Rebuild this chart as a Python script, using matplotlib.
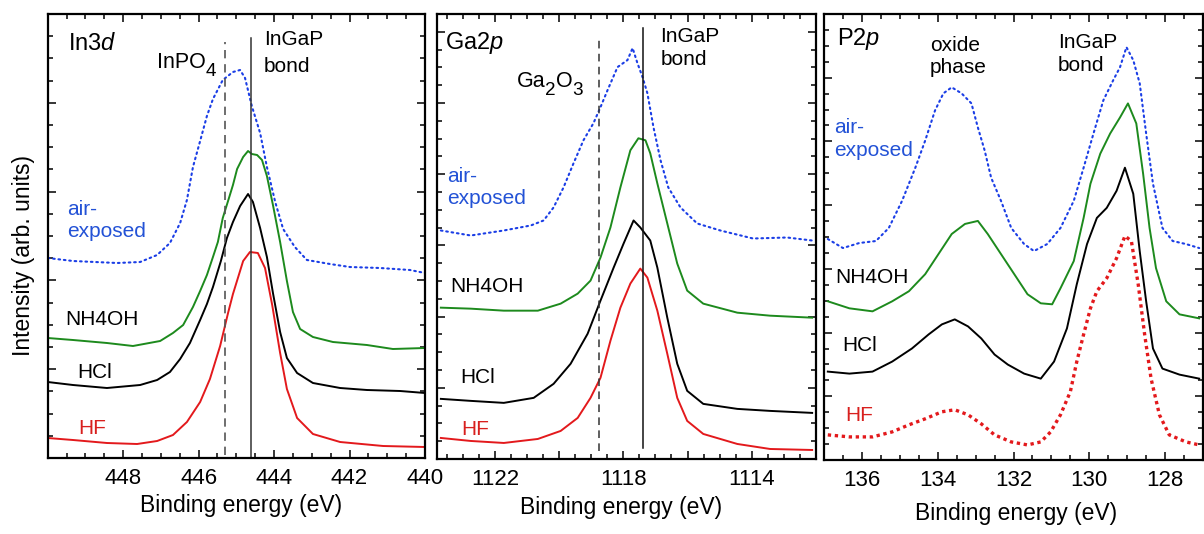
import matplotlib
matplotlib.use('Agg')
import matplotlib.pyplot as plt
from matplotlib.ticker import MultipleLocator, FuncFormatter

plt.rcParams['font.family'] = ['Liberation Sans', 'DejaVu Sans']
plt.rcParams['mathtext.fontset'] = 'custom'
plt.rcParams['mathtext.rm'] = 'Liberation Sans'
plt.rcParams['mathtext.it'] = 'Liberation Sans:italic'

# ---- In3d spectra (binding energy in eV, intensity in arb. units)
in3d_E_air = [450.0, 449.33, 448.16, 447.55, 447.10, 446.76, 446.49, 446.31, 446.15, 445.96, 445.78, 445.62, 445.36, 445.09,
              444.90, 444.77, 444.59, 444.37, 444.19, 443.97, 443.76, 443.45, 443.13, 442.52, 441.99, 441.19, 440.40, 440.00]
in3d_I_air = [200, 197, 195, 196, 203, 215, 235, 258, 291, 317, 342, 359, 378, 386,
              388, 380, 352, 325, 291, 256, 229, 211, 198, 194, 191, 190, 188, 185]
in3d_E_nh4 = [450.0, 449.33, 448.43, 447.74, 447.02, 446.68, 446.41, 446.15, 445.96, 445.78, 445.62, 445.49, 445.36, 445.22,
              445.09, 444.98, 444.82, 444.69, 444.59, 444.45, 444.32, 444.19, 444.03, 443.84, 443.66, 443.50, 443.31, 442.97,
              442.44, 441.54, 440.85, 440.00]
in3d_I_nh4 = [120, 118, 115, 112, 117, 125, 133, 151, 167, 183, 201, 216, 240, 257,
              273, 289, 301, 307, 304, 303, 298, 282, 253, 216, 177, 146, 129, 121,
              116, 113, 109, 110]
in3d_E_hcl = [450.0, 449.33, 448.43, 447.55, 447.10, 446.76, 446.49, 446.23, 445.96, 445.78, 445.62, 445.41, 445.25, 445.09,
              444.90, 444.69, 444.56, 444.37, 444.19, 444.03, 443.84, 443.66, 443.39, 442.97, 442.25, 441.54, 440.66, 440.00]
in3d_I_hcl = [76, 73, 70, 73, 78, 86, 99, 115, 138, 154, 171, 197, 220, 236,
              252, 264, 256, 230, 201, 165, 126, 100, 85, 75, 70, 68, 67, 65]
in3d_E_hf = [450.0, 449.33, 448.43, 447.63, 447.10, 446.68, 446.31, 445.96, 445.70, 445.43, 445.22, 445.09,
             444.82, 444.64, 444.43, 444.24, 444.05, 443.84, 443.66, 443.39, 442.97, 442.25, 441.11, 440.00]
in3d_I_hf = [20, 18, 15, 14, 17, 23, 36, 56, 79, 112, 145, 164,
             197, 206, 205, 190, 153, 105, 69, 40, 24, 16, 12, 11]

# ---- Ga2p spectra
ga2p_E_air = [1123.68, 1122.75, 1121.72, 1120.88, 1120.48, 1120.17, 1119.86, 1119.55, 1119.24, 1118.93, 1118.71, 1118.49,
              1118.18, 1117.87, 1117.71, 1117.56, 1117.40, 1117.25, 1117.06, 1116.84, 1116.60, 1116.22, 1115.70, 1114.98,
              1113.96, 1112.90, 1112.12]
ga2p_I_air = [228, 223, 228, 233, 238, 251, 271, 295, 318, 335, 351, 368,
              391, 398, 410, 395, 381, 365, 331, 298, 271, 251, 235, 228,
              220, 221, 218]
ga2p_E_nh4 = [1123.68, 1122.75, 1121.72, 1120.66, 1119.95, 1119.42, 1119.02, 1118.71, 1118.40, 1118.09, 1117.78, 1117.53,
              1117.31, 1117.16, 1116.94, 1116.63, 1116.32, 1116.01, 1115.51, 1114.45, 1113.43, 1112.12]
ga2p_I_nh4 = [151, 150, 148, 148, 155, 165, 178, 201, 231, 271, 308, 320,
              318, 305, 275, 235, 195, 168, 155, 146, 143, 141]
ga2p_E_hcl = [1123.68, 1122.75, 1121.72, 1120.79, 1120.17, 1119.64, 1119.11, 1118.71, 1118.30, 1117.99, 1117.68, 1117.47,
              1117.16, 1116.94, 1116.63, 1116.32, 1116.01, 1115.51, 1114.45, 1113.43, 1112.12]
ga2p_I_hcl = [60, 58, 56, 61, 75, 95, 125, 158, 191, 215, 238, 231,
              218, 191, 141, 95, 68, 55, 50, 48, 46]
ga2p_E_hf = [1123.68, 1122.75, 1121.72, 1120.66, 1119.95, 1119.42, 1119.02, 1118.71, 1118.40, 1118.09, 1117.78, 1117.47,
             1117.25, 1116.94, 1116.63, 1116.32, 1116.01, 1115.51, 1114.45, 1113.43, 1112.12]
ga2p_I_hf = [21, 18, 16, 20, 28, 41, 61, 81, 118, 151, 175, 190,
             181, 148, 105, 61, 38, 25, 15, 10, 9]

# ---- P2p spectra
p2p_E_air = [136.90, 136.50, 136.07, 135.63, 135.29, 134.94, 134.59, 134.33, 134.07, 133.85, 133.63, 133.37, 133.11,
             132.94, 132.76, 132.59, 132.33, 132.06, 131.72, 131.46, 131.11, 130.76, 130.41, 130.15, 129.89, 129.63,
             129.37, 129.19, 129.02, 128.84, 128.67, 128.50, 128.32, 128.07, 127.80, 127.45, 127.10]
p2p_I_air = [220, 211, 216, 218, 231, 258, 291, 318, 348, 365, 371, 365, 355,
             331, 308, 281, 258, 231, 215, 208, 215, 231, 258, 291, 325, 358,
             378, 391, 411, 398, 375, 325, 275, 231, 218, 215, 211]
p2p_E_nh4 = [136.90, 136.33, 135.72, 135.20, 134.76, 134.33, 133.98, 133.63, 133.28, 132.94, 132.68, 132.33, 131.98,
             131.63, 131.28, 130.98, 130.76, 130.41, 130.15, 129.97, 129.71, 129.45, 129.19, 128.98, 128.76, 128.58,
             128.41, 128.24, 127.97, 127.62, 127.10]
p2p_I_nh4 = [158, 151, 148, 158, 168, 185, 205, 225, 235, 238, 225, 205, 185,
             165, 156, 155, 171, 198, 241, 275, 305, 325, 341, 355, 335, 285,
             231, 191, 158, 145, 141]
p2p_E_hcl = [136.90, 136.33, 135.72, 135.20, 134.68, 134.24, 133.89, 133.55, 133.20, 132.85, 132.50, 132.15, 131.72,
             131.28, 130.93, 130.59, 130.33, 130.06, 129.80, 129.54, 129.28, 129.06, 128.84, 128.67, 128.50, 128.32,
             128.07, 127.62, 127.10]
p2p_I_hcl = [88, 86, 88, 98, 111, 125, 135, 140, 133, 121, 105, 95, 86,
             81, 98, 131, 175, 215, 241, 251, 268, 291, 265, 208, 158, 111,
             91, 85, 81]
p2p_E_hf = [136.90, 136.33, 135.72, 135.20, 134.76, 134.33, 133.89, 133.55, 133.20, 132.85, 132.50, 132.06, 131.63,
            131.28, 131.02, 130.76, 130.50, 130.33, 130.15, 129.97, 129.80, 129.54, 129.28, 129.06, 128.89, 128.71,
            128.54, 128.37, 128.15, 127.89, 127.45, 127.10]
p2p_I_hf = [25, 23, 23, 28, 35, 41, 48, 50, 45, 36, 25, 18, 15,
            18, 28, 45, 68, 98, 125, 151, 168, 181, 201, 223, 218, 175,
            125, 81, 45, 25, 18, 15]

# reference lines
in3d_lines = [445.3, 444.6]
ga2p_lines = [1118.75, 1117.4]

BLUE = '#1b3ee6'
GREEN = '#1d8a1d'
RED = '#e3191c'
TXT_BLUE = '#2352d6'
TXT_RED = '#d8201e'

W, H = 1204, 534
fig = plt.figure(figsize=(W / 100, H / 100), dpi=100)
renderer = fig.canvas.get_renderer()


def make_axes(left, right, top, bottom):
    return fig.add_axes([left / W, 1 - bottom / H, (right - left) / W, (bottom - top) / H])


def style(ax, xlim, xmaj, ystep, labels):
    ax.set_xlim(*xlim)
    ax.set_ylim(0, 444)
    ax.xaxis.set_major_locator(MultipleLocator(xmaj))
    ax.xaxis.set_minor_locator(MultipleLocator(0.5))
    ax.xaxis.set_major_formatter(FuncFormatter(lambda v, p: '%d' % round(v) if round(v) in labels else ''))
    ax.yaxis.set_major_locator(MultipleLocator(ystep * 4))
    ax.yaxis.set_minor_locator(MultipleLocator(ystep))
    ax.yaxis.set_major_formatter(FuncFormatter(lambda v, p: ''))
    ax.tick_params(which='both', direction='in', top=True, right=True, width=1.1, colors='black')
    ax.tick_params(which='major', length=6)
    ax.tick_params(which='minor', length=3.5)
    ax.tick_params(axis='x', labelsize=16, pad=7)
    for s in ax.spines.values():
        s.set_linewidth(1.6)


def curves(ax, data, dotted_last=False):
    (Ea, Ia), (En, In), (Eh, Ih), (Ef, If) = data
    ax.plot(Ea, Ia, color=BLUE, lw=1.5, linestyle=(0, (0.8, 1.8)), dash_capstyle='round')
    ax.plot(En, In, color=GREEN, lw=1.4)
    ax.plot(Eh, Ih, color='black', lw=1.4)
    if dotted_last:
        ax.plot(Ef, If, color=RED, lw=2.4, linestyle=(0, (1, 1.1)), dash_capstyle='butt')
    else:
        ax.plot(Ef, If, color=RED, lw=1.4)


def texts(ax, items):
    for fx, fy, s, c, fs in items:
        ax.text(fx, fy, s, color=c, fontsize=fs, ha='left', va='baseline', transform=ax.transAxes)


def chem(ax, fx, fy, parts, fs=15.5):
    # formula with large, lowered subscripts
    dx = 0.0
    for s, sub in parts:
        size = fs * 0.88 if sub else fs
        dy = -5.5 if sub else 0
        t = ax.annotate(s, xy=(fx, fy), xycoords='axes fraction', xytext=(dx, dy),
                        textcoords='offset points', fontsize=size, ha='left', va='baseline')
        dx += t.get_window_extent(renderer).width * 72 / 100


# panel 1: In3d
ax1 = make_axes(47.7, 425, 14, 458)
style(ax1, (450, 440), 2, 22.2, {448, 446, 444, 442, 440})
curves(ax1, [(in3d_E_air, in3d_I_air), (in3d_E_nh4, in3d_I_nh4), (in3d_E_hcl, in3d_I_hcl), (in3d_E_hf, in3d_I_hf)])
ax1.axvline(in3d_lines[0], ymin=0.007, ymax=0.937, color='#555555', lw=1.2, linestyle=(0, (5, 3.5)))
ax1.axvline(in3d_lines[1], ymin=0.0, ymax=0.946, color='#333333', lw=1.1)
texts(ax1, [(0.054, 0.918, r'In3$\mathit{d}$', 'black', 17),
            (0.573, 0.930, 'InGaP', 'black', 15),
            (0.573, 0.870, 'bond', 'black', 15),
            (0.051, 0.547, 'air-', TXT_BLUE, 15),
            (0.051, 0.498, 'exposed', TXT_BLUE, 15),
            (0.046, 0.300, 'NH4OH', 'black', 15),
            (0.078, 0.1795, 'HCl', 'black', 15),
            (0.080, 0.054, 'HF', TXT_RED, 15)])
chem(ax1, 0.290, 0.878, [('InPO', False), ('4', True)])
ax1.set_ylabel('Intensity (arb. units)', fontsize=16.5)
ax1.yaxis.label.set_va('center')
ax1.yaxis.set_label_coords(-0.0647, 0.455)

# panel 2: Ga2p
ax2 = make_axes(437, 816, 14, 459)
style(ax2, (1123.8, 1112), 2, 17.76, {1122, 1118, 1114})
curves(ax2, [(ga2p_E_air, ga2p_I_air), (ga2p_E_nh4, ga2p_I_nh4), (ga2p_E_hcl, ga2p_I_hcl), (ga2p_E_hf, ga2p_I_hf)])
ax2.axvline(ga2p_lines[0], ymin=0.018, ymax=0.941, color='#333333', lw=1.1, linestyle=(0, (5, 3.5)))
ax2.axvline(ga2p_lines[1], ymin=0.025, ymax=0.968, color='#111111', lw=1.1)
texts(ax2, [(0.021, 0.921, r'Ga2$\mathit{p}$', 'black', 17),
            (0.590, 0.936, 'InGaP', 'black', 15),
            (0.590, 0.885, 'bond', 'black', 15),
            (0.026, 0.623, 'air-', TXT_BLUE, 15),
            (0.026, 0.573, 'exposed', TXT_BLUE, 15),
            (0.034, 0.375, 'NH4OH', 'black', 15),
            (0.061, 0.171, 'HCl', 'black', 15),
            (0.065, 0.054, 'HF', TXT_RED, 15)])
chem(ax2, 0.210, 0.835, [('Ga', False), ('2', True), ('O', False), ('3', True)])

# panel 3: P2p
ax3 = make_axes(824, 1203, 14, 460)
style(ax3, (137, 127), 2, 444 / 28, {136, 134, 132, 130, 128})
curves(ax3, [(p2p_E_air, p2p_I_air), (p2p_E_nh4, p2p_I_nh4), (p2p_E_hcl, p2p_I_hcl), (p2p_E_hf, p2p_I_hf)],
       dotted_last=True)
texts(ax3, [(0.0335, 0.930, r'P2$\mathit{p}$', 'black', 17),
            (0.280, 0.918, 'oxide', 'black', 15),
            (0.280, 0.867, 'phase', 'black', 15),
            (0.617, 0.923, 'InGaP', 'black', 15),
            (0.617, 0.873, 'bond', 'black', 15),
            (0.026, 0.7325, 'air-', TXT_BLUE, 15),
            (0.026, 0.682, 'exposed', TXT_BLUE, 15),
            (0.029, 0.3975, 'NH4OH', 'black', 15),
            (0.0475, 0.244, 'HCl', 'black', 15),
            (0.055, 0.088, 'HF', TXT_RED, 15)])

for ax, (cx, cy) in zip([ax1, ax2, ax3], [(0.512, -0.106), (0.4855, -0.110), (0.508, -0.119)]):
    ax.set_xlabel('Binding energy (eV)', fontsize=16.5)
    ax.xaxis.label.set_va('center')
    ax.xaxis.set_label_coords(cx, cy)

fig.savefig('out.png', dpi=100)
